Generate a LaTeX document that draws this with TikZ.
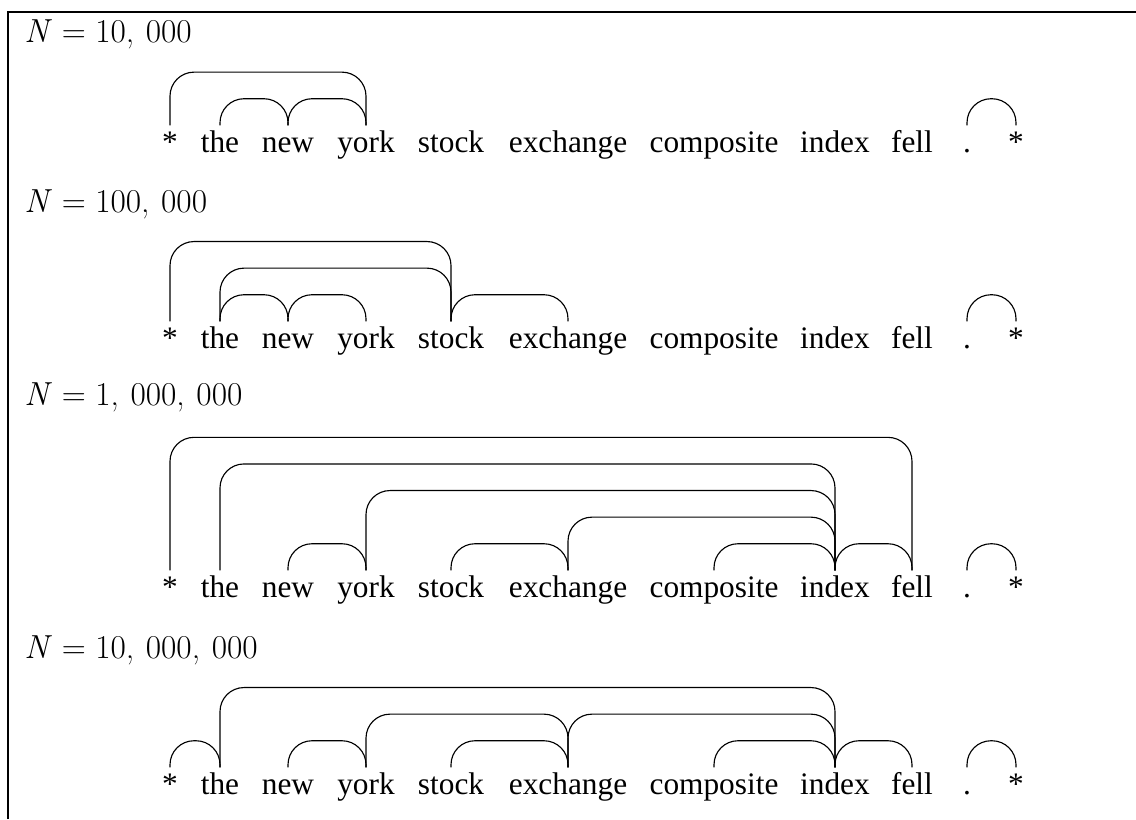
\documentclass[tikz,border=0pt]{standalone}
\usepackage{fontspec}
\setmainfont{Liberation Serif}
\newfontfamily\lmfont{Latin Modern Roman}
\newcommand\nval[1]{\textit{N}\hspace{0.3em}=\hspace{0.28em}#1}

\begin{document}
\begin{tikzpicture}[
      x=0.75pt, y=-0.75pt,
      word/.style={anchor=base, inner sep=0pt, font=\fontsize{23.5}{28}\selectfont},
      nlabel/.style={anchor=base west, inner sep=0pt, font=\lmfont\fontsize{25}{30}\selectfont},
      dep/.style={line width=0.85pt, rounded corners=18pt}
    ]
    \useasboundingbox (0,0) rectangle (1136,819);

    % Marco
    \draw[line width=1.5pt] (8,819) -- (8,12) -- (1136,12);

    % Etiquetas
    \node[nlabel] (lbl1) at (24,42)  {\nval{10,\hspace{0.35em}000}};
    \node[nlabel] (lbl2) at (24,212) {\nval{100,\hspace{0.35em}000}};
    \node[nlabel] (lbl3) at (24,405) {\nval{1,\hspace{0.35em}000,\hspace{0.35em}000}};
    \node[nlabel] (lbl4) at (24,658) {\nval{10,\hspace{0.35em}000,\hspace{0.35em}000}};

    % Palabras de cada fila
    \foreach \r/\yb in {1/152, 2/348, 3/597, 4/794}
      \foreach \w/\x/\n in {*/170/root, the/220/the, new/288/new, york/366/york,
          stock/451/stock, exchange/568/exch, composite/714/comp, index/835/index,
          fell/912/fell, ./967/dot, */1016/end}
        \node[word] (\n\r) at (\x,\yb) {\w};

    % Arcos
    \foreach \a/\b/\l in {root1/york1/2, the1/new1/1, new1/york1/1, dot1/end1/1,
        root2/stock2/3, the2/stock2/2, the2/new2/1, new2/york2/1, stock2/exch2/1, dot2/end2/1,
        root3/fell3/5, the3/index3/4, york3/index3/3, exch3/index3/2, new3/york3/1,
        stock3/exch3/1, comp3/index3/1, index3/fell3/1, dot3/end3/1,
        root4/the4/1, the4/index4/3, york4/exch4/2, exch4/index4/2, new4/york4/1,
        stock4/exch4/1, comp4/index4/1, index4/fell4/1, dot4/end4/1}
      \draw[dep] ([yshift=20pt]\a.base) -- ++(0,-26.6*\l) -| ([yshift=20pt]\b.base);

  \end{tikzpicture}
\end{document}
